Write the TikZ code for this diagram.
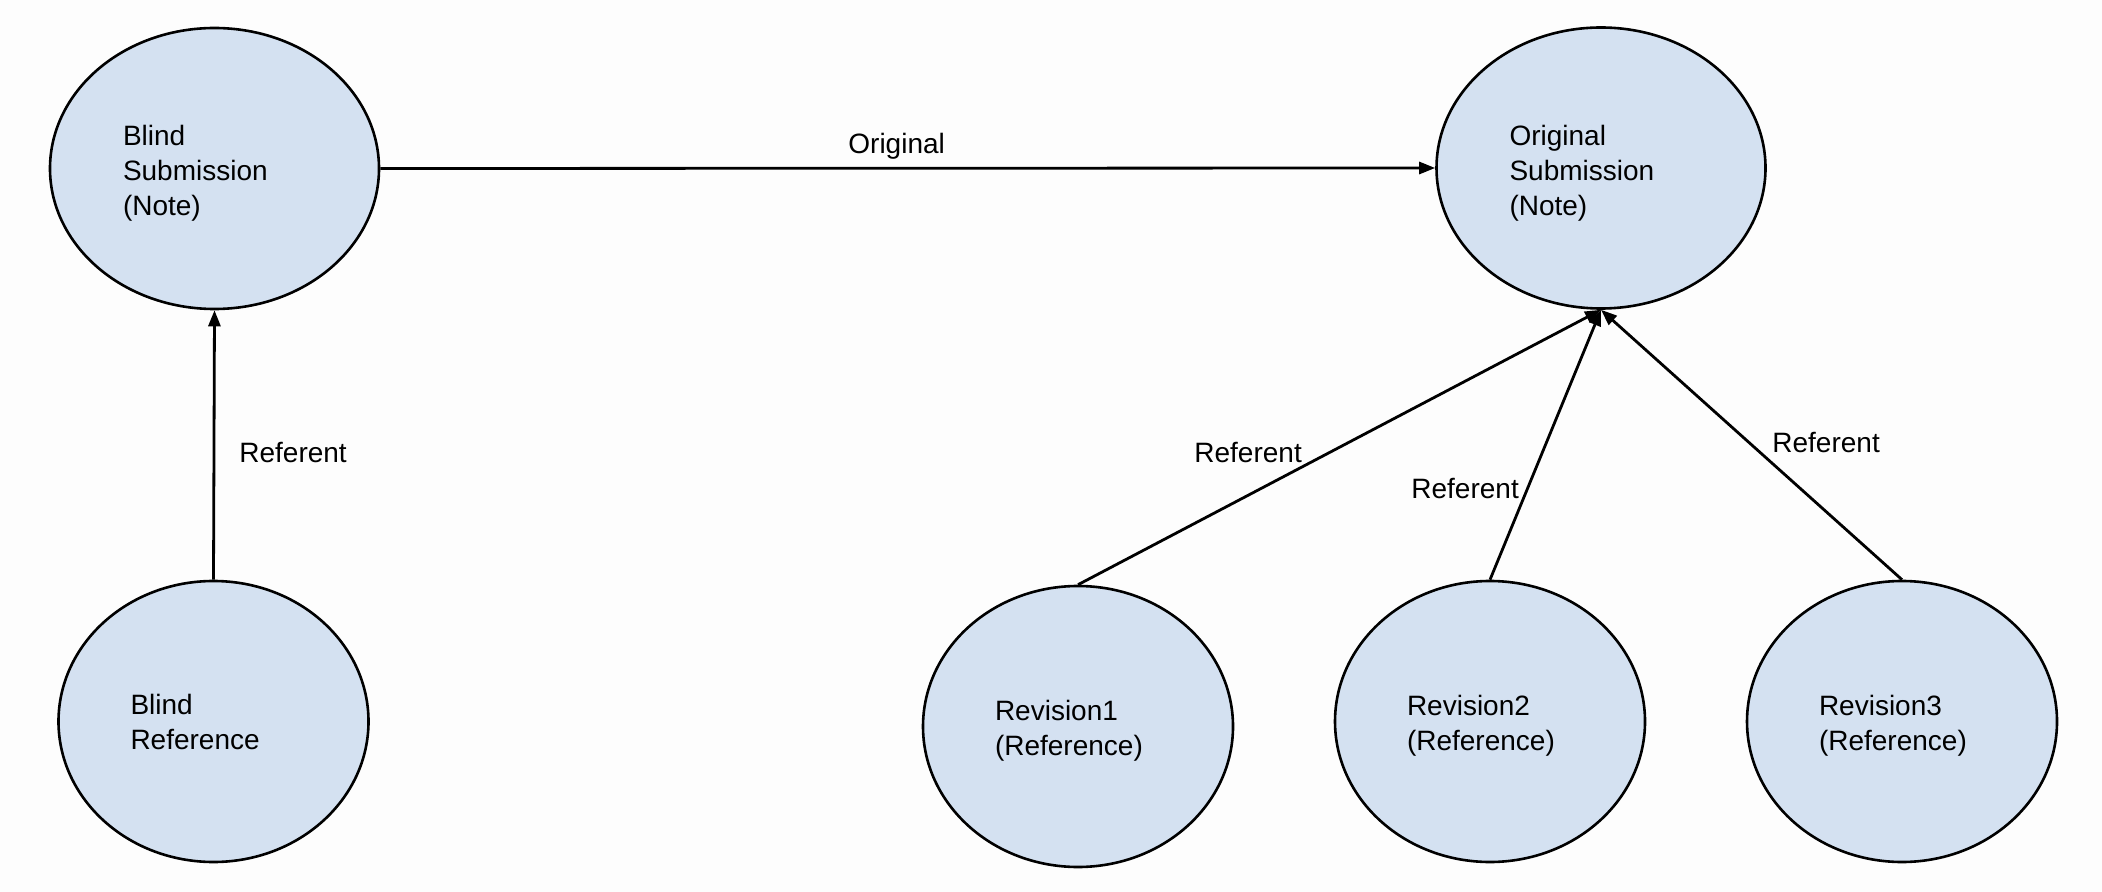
\documentclass[tikz,border=0pt]{standalone}
\usepackage{fontspec}
\setmainfont{Liberation Sans}
\usetikzlibrary{shapes.geometric,arrows.meta}
\definecolor{notefill}{RGB}{212,225,241}
\definecolor{pagebg}{RGB}{253,253,253}
\newcommand{\topgap}[1]{\rule{0pt}{#1}}

\begin{document}
\begin{tikzpicture}[x=0.5pt,y=-0.5pt, font=\fontsize{14}{17.5}\selectfont,
    note/.style={draw, ellipse, fill=notefill, line width=1.3pt, minimum width=164.5pt, minimum height=140.5pt, text width=91.5pt, align=left, inner sep=0pt},
    refnote/.style={note, minimum width=155pt, text width=83pt},
    link/.style={-{Triangle[length=8pt,width=6pt]}, line width=1.4pt},
    lbl/.style={anchor=base west, inner sep=0pt}]
    \fill [pagebg] (0,0) rectangle (2102,892);
    \useasboundingbox (0,0) rectangle (2102,892);

    % submissions
    \node [note] (bs) at (214.5,168.5) {\topgap{15pt}Blind\\Submission\\(Note)};
    \node [note] (os) at (1601,168) {\topgap{15pt}Original\\Submission\\(Note)};
    \draw [link] (bs.east) -- (os.west);
    \node [lbl, name=l0] at (848,154) {Original};

    % blind reference
    \node [refnote] (br) at (213.5,721.5) {Blind\\Reference};
    \draw [link] (br.north) -- (bs.south);
    \node [lbl, name=l1] at (239,463) {Referent};

    % revisions
    \node [refnote] (r1) at (1078,726.5) {\topgap{14pt}Revision1\\(Reference)};
    \node [refnote] (r2) at (1490,721.5) {\topgap{14pt}Revision2\\(Reference)};
    \node [refnote] (r3) at (1902,721.5) {\topgap{14pt}Revision3\\(Reference)};
    \draw [link] (r1.north) -- (os.south);
    \draw [link] (r2.north) -- (os.south);
    \draw [link] (r3.north) -- (os.south);
    \node [lbl, name=l2] at (1194,463) {Referent};
    \node [lbl, name=l3] at (1411,498) {Referent};
    \node [lbl, name=l4] at (1772,452) {Referent};
  \end{tikzpicture}
\end{document}
